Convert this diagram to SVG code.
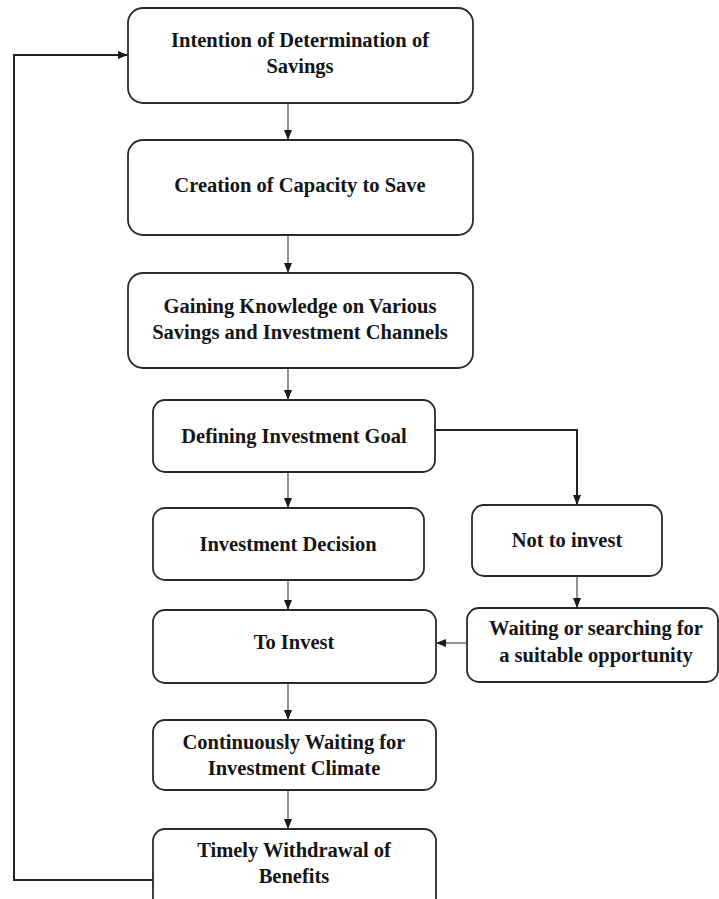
<svg xmlns="http://www.w3.org/2000/svg" width="719" height="899" viewBox="0 0 719 899">
  <style>
    .box { fill: #ffffff; stroke: #2a2a2a; stroke-width: 1.8; }
    .lbl { font-family: "Liberation Serif", "Times New Roman", serif; font-weight: bold; font-size: 20.5px; fill: #151515; text-anchor: middle; }
    .thin { fill: none; stroke: #4a4a4a; stroke-width: 1.2; }
    .thick { fill: none; stroke: #222222; stroke-width: 2; }
  </style>
  <defs>
    <marker id="arrow" markerUnits="userSpaceOnUse" markerWidth="10" markerHeight="10" viewBox="0 0 10 10" refX="10" refY="5" orient="auto">
      <path d="M0,1 L10,5 L0,9 Z" fill="#1a1a1a"/>
    </marker>
  </defs>
  <rect width="719" height="899" fill="#ffffff"/>

  <!-- connectors -->
  <g id="connectors">
    <line class="thin" x1="288" y1="103" x2="288" y2="140" marker-end="url(#arrow)"/>
    <line class="thin" x1="288" y1="235" x2="288" y2="273" marker-end="url(#arrow)"/>
    <line class="thin" x1="288" y1="368" x2="288" y2="400" marker-end="url(#arrow)"/>
    <line class="thin" x1="288" y1="472" x2="288" y2="508" marker-end="url(#arrow)"/>
    <polyline class="thick" points="435,430 577,430 577,505" marker-end="url(#arrow)"/>
    <line class="thin" x1="288" y1="580" x2="288" y2="610" marker-end="url(#arrow)"/>
    <line class="thin" x1="577" y1="576" x2="577" y2="608" marker-end="url(#arrow)"/>
    <line class="thin" x1="467" y1="643" x2="436" y2="643" marker-end="url(#arrow)"/>
    <line class="thin" x1="288" y1="683" x2="288" y2="720" marker-end="url(#arrow)"/>
    <line class="thin" x1="288" y1="790" x2="288" y2="829" marker-end="url(#arrow)"/>
    <polyline class="thick" points="153,880 14,880 14,55 128,55" marker-end="url(#arrow)"/>
  </g>

  <g id="intention">
    <rect class="box" x="128" y="8" width="345" height="95" rx="15"/>
    <text class="lbl" x="300" y="47">Intention of Determination of</text>
    <text class="lbl" x="300" y="73">Savings</text>
  </g>

  <g id="capacity">
    <rect class="box" x="128" y="140" width="345" height="95" rx="15"/>
    <text class="lbl" x="300" y="192">Creation of Capacity to Save</text>
  </g>

  <g id="knowledge">
    <rect class="box" x="128" y="273" width="345" height="95" rx="15"/>
    <text class="lbl" x="300" y="313">Gaining Knowledge on Various</text>
    <text class="lbl" x="300" y="339">Savings and Investment Channels</text>
  </g>

  <g id="goal">
    <rect class="box" x="153" y="400" width="282" height="72" rx="12"/>
    <text class="lbl" x="294" y="443">Defining Investment Goal</text>
  </g>

  <g id="decision">
    <rect class="box" x="153" y="508" width="271" height="72" rx="12"/>
    <text class="lbl" x="288" y="551">Investment Decision</text>
  </g>

  <g id="not-invest">
    <rect class="box" x="472" y="505" width="190" height="71" rx="12"/>
    <text class="lbl" x="567" y="547">Not to invest</text>
  </g>

  <g id="to-invest">
    <rect class="box" x="153" y="610" width="283" height="73" rx="12"/>
    <text class="lbl" x="294" y="649">To Invest</text>
  </g>

  <g id="waiting">
    <rect class="box" x="467" y="608" width="251" height="74" rx="12"/>
    <text class="lbl" x="596" y="635">Waiting or searching for</text>
    <text class="lbl" x="596" y="662">a suitable opportunity</text>
  </g>

  <g id="climate">
    <rect class="box" x="153" y="720" width="283" height="70" rx="12"/>
    <text class="lbl" x="294" y="749">Continuously Waiting for</text>
    <text class="lbl" x="294" y="775">Investment Climate</text>
  </g>

  <g id="withdrawal">
    <rect class="box" x="153" y="829" width="283" height="82" rx="12"/>
    <text class="lbl" x="294" y="857">Timely Withdrawal of</text>
    <text class="lbl" x="294" y="883">Benefits</text>
  </g>
</svg>
